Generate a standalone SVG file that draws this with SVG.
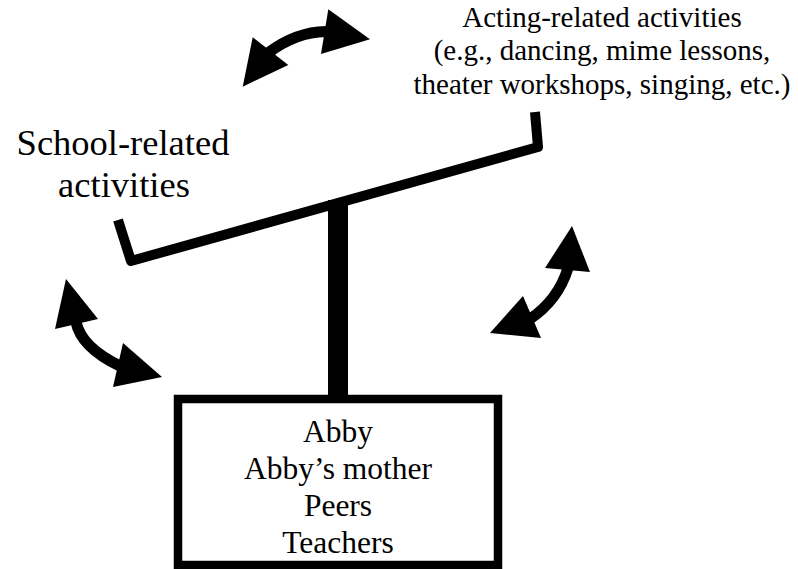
<svg xmlns="http://www.w3.org/2000/svg" width="798" height="569" viewBox="0 0 798 569">
<style>
text{font-family:"Liberation Serif","Times New Roman",serif;fill:#000;text-anchor:middle}
.shaft{fill:none;stroke:#000;stroke-width:11}
.head{fill:#000}
.beam{fill:none;stroke:#000;stroke-width:10;stroke-linejoin:round}
</style>
<rect width="798" height="569" fill="#fff"/>
<g id="scale">
<path class="beam" d="M118,220 L131,261 L538,147 L535,112"/>
<rect x="328" y="200" width="20" height="196" fill="#000"/>
</g>
<g id="people">
<rect x="178" y="399" width="320" height="166" fill="#fff" stroke="#000" stroke-width="8.5"/>
<text x="338" y="442" font-size="31.5">Abby</text>
<text x="338" y="479" font-size="31.5">Abby’s mother</text>
<text x="338" y="516" font-size="31.5">Peers</text>
<text x="338" y="553" font-size="31.5">Teachers</text>
</g>
<g id="school">
<text x="123" y="155" font-size="36.5">School-related</text>
<text x="124" y="197" font-size="36.5">activities</text>
</g>
<g id="acting">
<text x="602" y="27" font-size="29">Acting-related activities</text>
<text x="602" y="60" font-size="29">(e.g., dancing, mime lessons,</text>
<text x="602" y="94" font-size="29">theater workshops, singing, etc.)</text>
</g>
<g id="connectors">
<path class="shaft" d="M268,53 Q295.8,32 326,31.5"/>
<polygon class="head" points="242.7,86.7 252.7,37.3 288.3,65"/>
<polygon class="head" points="328.3,9.3 370,39.3 321,54"/>
<path class="shaft" d="M76,322 Q81.35,347.5 120,366"/>
<polygon class="head" points="66,279 55,329 98,319"/>
<polygon class="head" points="162,377 123,343 113,387"/>
<path class="shaft" d="M568,268 Q558.25,299.9 530,319"/>
<polygon class="head" points="572,226 545,268 590,272"/>
<polygon class="head" points="490,333 523,296 541,338"/>
</g>
</svg>
